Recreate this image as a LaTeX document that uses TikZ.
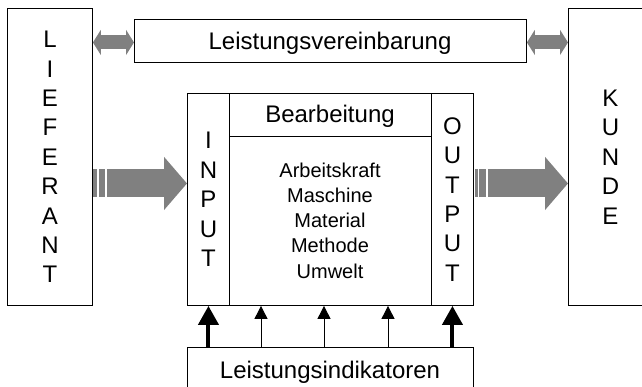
\documentclass[tikz,border=0pt]{standalone}
\usepackage{fontspec}
\setmainfont{Liberation Sans}
\usetikzlibrary{arrows.meta}
\definecolor{arrgray}{RGB}{128,128,128}
\begin{document}
\begin{tikzpicture}[x=1pt,y=-1pt,
  box/.style={draw=black, line width=0.9pt, inner sep=0pt, anchor=north west},
  big/.style={font=\fontsize{24}{29.4}\selectfont, inner sep=0pt},
  stack/.style={big, align=center},
  list/.style={font=\fontsize{20}{25.2}\selectfont, align=center, inner sep=0pt},
  dbl/.style={draw=arrgray, line width=14pt,
    {Triangle[width=25pt,length=8pt]}-{Triangle[width=25pt,length=8pt]}},
  flow/.style={draw=arrgray, line width=28pt, -{Triangle[width=52pt,length=23pt]}},
  stripe/.style={fill=arrgray},
  thinarrow/.style={draw=black, line width=0.9pt, -{Triangle[width=13pt,length=13pt]}},
  thickarrow/.style={draw=black, line width=4pt, -{Triangle[width=20pt,length=19pt]}}]

\path[use as bounding box] (0,0) rectangle (642,387);
\clip (0,0) rectangle (642,387);

% outer partners
\node[box, stack, minimum width=85pt, minimum height=297pt] (lief) at (7,8)
  {L\\I\\E\\F\\E\\R\\A\\N\\T};
\node[box, stack, minimum width=84pt, minimum height=297pt] (kunde) at (568,8)
  {K\\U\\N\\D\\E};

% agreement bar
\node[box, minimum width=392pt, minimum height=43pt] (lv) at (134,19) {};
\node[big, anchor=base] (lvtext) at (330,50) {Leistungsvereinbarung};

% process block
\node[box, minimum width=286pt, minimum height=212pt] (main) at (187,93) {};
\node[box, stack, minimum width=42pt, minimum height=212pt] (in) at (187,93)
  {I\\N\\P\\U\\T};
\node[box, stack, minimum width=42pt, minimum height=212pt] (out) at (431,93)
  {O\\U\\T\\P\\U\\T};
\node[box, minimum width=202pt, minimum height=43pt] (bearb) at (229,93) {};
\node[big, anchor=base] (bearbtext) at (330,123) {Bearbeitung};
\node[list] (body) at (330,220.5)
  {Arbeitskraft\\Maschine\\Material\\Methode\\Umwelt};

% indicators
\node[box, minimum width=286pt, minimum height=60pt] (ind) at (187,347) {};
\node[big, anchor=base] (indtext) at (330,378) {Leistungsindikatoren};

% agreement arrows
\coordinate (dl) at ([yshift=-1.5pt]lv.west);
\coordinate (dr) at ([yshift=-1.5pt]lv.east);
\draw[dbl] (lief.east |- dl) -- (dl);
\draw[dbl] (dr) -- (kunde.west |- dr);

% material flow arrows
\coordinate (fin) at ([yshift=16pt]in.west);
\coordinate (fout) at ([yshift=16pt]out.east);
\fill[stripe] ([xshift=0.5pt,yshift=14pt]lief.east |- fin) rectangle ([xshift=4pt,yshift=-14pt]lief.east |- fin);
\fill[stripe] ([xshift=6pt,yshift=14pt]lief.east |- fin) rectangle ([xshift=12pt,yshift=-14pt]lief.east |- fin);
\draw[flow] ([xshift=14pt]lief.east |- fin) -- (fin);
\fill[stripe] ([xshift=1pt,yshift=14pt]fout) rectangle ([xshift=4pt,yshift=-14pt]fout);
\fill[stripe] ([xshift=5.5pt,yshift=14pt]fout) rectangle ([xshift=12pt,yshift=-14pt]fout);
\draw[flow] ([xshift=14pt]fout) -- (kunde.west |- fout);

% indicator arrows
\draw[thickarrow] (ind.north -| in.south) -- (in.south);
\draw[thickarrow] (ind.north -| out.south) -- (out.south);
\foreach \dx in {74,137,201}
  \draw[thinarrow] ([xshift=\dx pt]ind.north west) -- ([xshift=\dx pt]main.south west);
\end{tikzpicture}
\end{document}
